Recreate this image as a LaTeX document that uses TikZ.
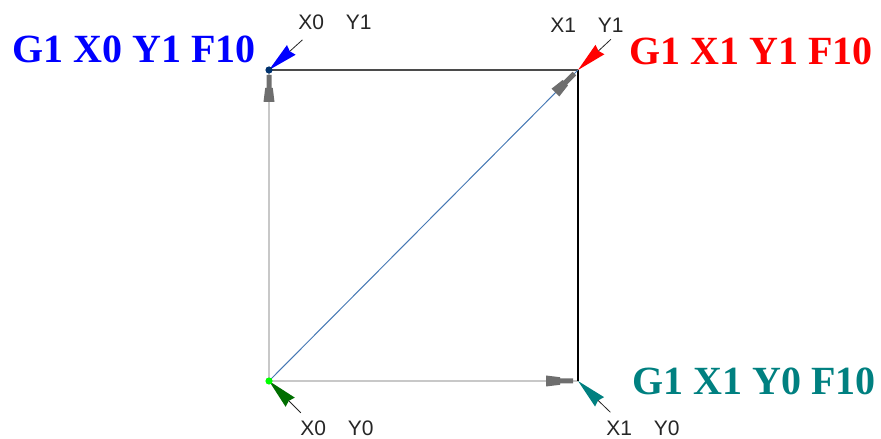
\documentclass[tikz,border=0pt]{standalone}
\usepackage{fontspec}
\setmainfont{Liberation Serif}
\setsansfont{Liberation Sans}
\definecolor{steel}{RGB}{70,120,180}
\definecolor{arrgray}{RGB}{110,110,110}
\definecolor{edgelight}{RGB}{200,200,200}
\definecolor{edgedark}{RGB}{75,75,75}
\definecolor{tealc}{RGB}{0,128,128}
\definecolor{darkgreen}{RGB}{0,110,0}
\definecolor{navy}{RGB}{0,50,110}
\newcommand\grayarrow[2]{%
  \begin{scope}[shift={(#1)},rotate=#2]
    \fill[arrgray] (5,-2.5) -- (18,-2.5) -- (18,-3.8) -- (32,-5.5) -- (32,5.5) -- (18,3.8) -- (18,2.5) -- (5,2.5) -- cycle;
  \end{scope}}
\newcommand\pointer[3]{%
  \begin{scope}[shift={(#1)},rotate=#2]
    \fill[#3] (0,0) -- (30,6.5) -- (28,0) -- (30,-6.5) -- cycle;
    \draw[leadline] (28,0) -- (45,0);
  \end{scope}}
\begin{document}
\begin{tikzpicture}[x=1pt,y=1pt,
  big/.style={font=\fontsize{40}{40}\selectfont\bfseries, inner sep=0pt, anchor=base west},
  small/.style={font=\sffamily\fontsize{21}{21}\selectfont, inner sep=0pt, text=black!85},
  leadline/.style={draw=black!85, line width=0.8pt}]
\useasboundingbox (0,0) rectangle (881,439);
\coordinate (TL) at (269,369);
\coordinate (TR) at (578,369);
\coordinate (BL) at (269,58);
\coordinate (BR) at (578,58);
% edges
\draw[edgelight, line width=1.4pt] (TL) -- (BL) -- (BR);
\draw[edgedark, line width=1.6pt] (TL) -- (TR);
\draw[black, line width=1.4pt] (TR) -- (BR);
\draw[steel, line width=1pt] (BL) -- (TR);
% direction arrows
\grayarrow{TL}{-90}
\grayarrow{BR}{180}
\grayarrow{TR}{225}
% pointers
\pointer{TL}{42}{blue}
\pointer{TR}{43}{red}
\pointer{BL}{-45}{darkgreen}
\pointer{BR}{-44}{tealc}
% dots
\fill[navy] (TL) circle (3.6pt);
\fill[green] (BL) circle (3.6pt);
% small labels
\node[small] (l1) at (335,417) {X0\hspace{22pt}Y1};
\node[small] (l2) at (587,414) {X1\hspace{22pt}Y1};
\node[small] (l3) at (337,11) {X0\hspace{22pt}Y0};
\node[small] (l4) at (643,11) {X1\hspace{22pt}Y0};
% big labels
\node[big, text=blue] (b1) at (12,376) {G1 X0 Y1 F10};
\node[big, text=red] (b2) at (629,374) {G1 X1 Y1 F10};
\node[big, text=tealc] (b3) at (632,44) {G1 X1 Y0 F10};
\end{tikzpicture}
\end{document}
